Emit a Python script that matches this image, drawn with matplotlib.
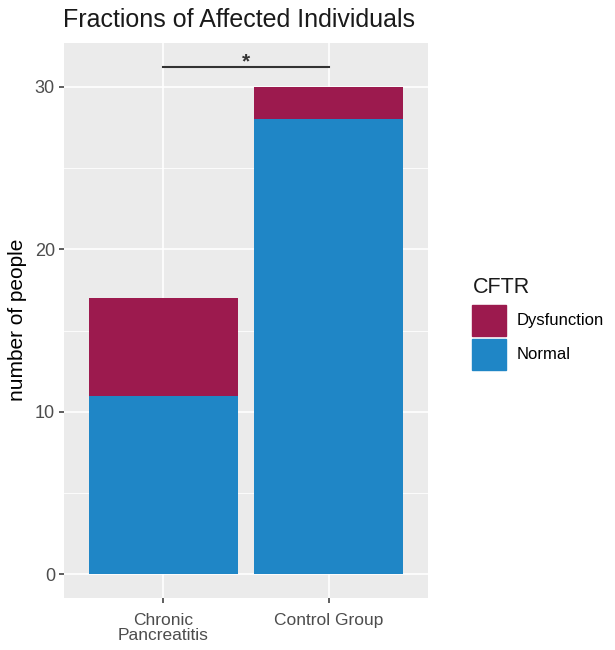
import matplotlib
matplotlib.use("Agg")
import matplotlib.pyplot as plt
from matplotlib.patches import Patch

plt.rcParams['font.family'] = ['Liberation Sans', 'DejaVu Sans']

groups = ["Chronic\nPancreatitis", "Control Group"]
normal = [11, 28]
dysfunction = [6, 2]
y_ticks = [0, 10, 20, 30]

col_dys = "#9C1A4E"
col_norm = "#1F86C6"
txt_grey = "#4D4D4D"

fig = plt.figure(figsize=(6.15, 6.5), dpi=100)
ax = fig.add_axes([0.104, 0.080, 0.592, 0.854])
ax.set_facecolor("#EBEBEB")

x = list(range(len(groups)))
ax.bar(x, normal, width=0.9, color=col_norm, zorder=3)
ax.bar(x, dysfunction, width=0.9, bottom=normal, color=col_dys, zorder=3)

# significance bracket
ax.plot([0, 1], [31.2, 31.2], color="#333333", lw=1.5, zorder=4)
ax.text(0.5, 31.55, "*", ha="center", va="center", fontsize=15,
        fontweight="bold", color="#333333")

ax.set_xlim(-0.6, 1.6)
ax.set_ylim(-1.45, 32.7)
ax.set_xticks(x)
ax.set_xticklabels(groups, fontsize=12.5, color=txt_grey, linespacing=1.0)
ax.set_yticks(y_ticks)
ax.set_yticklabels([str(t) for t in y_ticks], fontsize=13, color=txt_grey)
ax.set_yticks([5, 15, 25], minor=True)
ax.tick_params(axis="both", which="major", length=3.5, width=1.1, color="#333333", pad=3)
ax.tick_params(axis="x", which="major", pad=7)
ax.tick_params(axis="y", which="minor", length=0)
ax.grid(which="major", color="white", lw=1.2, zorder=0)
ax.grid(which="minor", axis="y", color="white", lw=0.6, zorder=0)
ax.set_axisbelow(True)
for s in ax.spines.values():
    s.set_visible(False)

fig.text(18 / 615, 0.508, "number of people", rotation=90, fontsize=15,
         ha="center", va="center")
fig.text(63 / 615, 1 - 27 / 650, "Fractions of Affected Individuals",
         fontsize=18, ha="left", va="baseline", color="#1A1A1A")

# legend: title drawn separately so the keys can sit a bit lower
fig.text(473 / 615, 1 - 293 / 650, "CFTR", fontsize=15.5,
         ha="left", va="baseline", color="#1A1A1A")
handles = [Patch(color=col_dys, label="Dysfunction"),
           Patch(color=col_norm, label="Normal")]
leg = fig.legend(handles=handles, loc="upper left",
                 bbox_to_anchor=(472 / 615, 1 - 305 / 650), frameon=False,
                 fontsize=12, handlelength=2.05,
                 handleheight=2.45, labelspacing=0.2, handletextpad=0.65,
                 borderpad=0, borderaxespad=0)

fig.savefig("out.png", dpi=100, facecolor="white")
